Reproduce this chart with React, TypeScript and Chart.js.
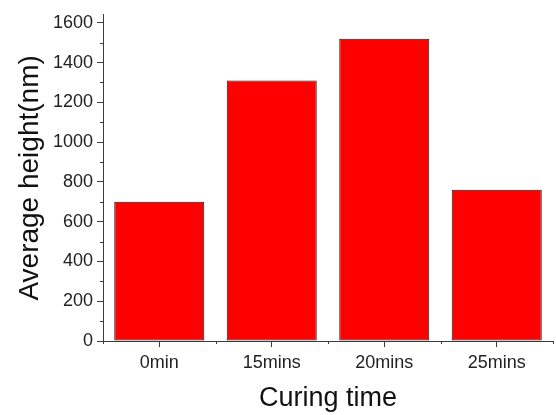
import React, { useEffect, useRef } from "react";
import { Chart, registerables } from "chart.js";

Chart.register(...registerables);

const categories = ["0min", "15mins", "20mins", "25mins"];
const heights = [700, 1310, 1520, 760];
const yMajorTicks = [0, 200, 400, 600, 800, 1000, 1200, 1400, 1600];
const yMinorTicks = [100, 300, 500, 700, 900, 1100, 1300, 1500];
const yMax = 1640;

const AXIS = "#3a3a3a";
const FONT = "'Liberation Sans', Arial, sans-serif";

const minorTicksPlugin = {
  id: "minorTicks",
  afterDraw(chart: any) {
    const { ctx } = chart;
    const xs = chart.scales.x;
    const ys = chart.scales.y;
    ctx.save();
    ctx.strokeStyle = AXIS;
    ctx.lineWidth = 1;
    ctx.beginPath();
    for (const v of yMinorTicks) {
      const py = Math.round(ys.getPixelForValue(v)) + 0.5;
      ctx.moveTo(ys.right - 3, py);
      ctx.lineTo(ys.right, py);
    }
    for (let i = 0; i <= categories.length; i++) {
      const px = Math.round(xs.getPixelForValue(i - 0.5)) + 0.5;
      ctx.moveTo(px, xs.top);
      ctx.lineTo(px, xs.top + 3);
    }
    ctx.stroke();
    ctx.restore();
  },
};

export default function App() {
  const ref = useRef<HTMLCanvasElement | null>(null);
  useEffect(() => {
    document.body.style.margin = "0";
    const chart = new Chart(ref.current as HTMLCanvasElement, {
      type: "bar",
      data: {
        labels: categories,
        datasets: [
          {
            data: heights,
            backgroundColor: "#ff0000",
            borderColor: "#1a1a1a",
            borderWidth: 1,
            borderSkipped: false,
            barPercentage: 0.8,
            categoryPercentage: 1,
          },
        ],
      },
      options: {
        responsive: true,
        maintainAspectRatio: false,
        animation: false,
        layout: { padding: { top: 12, right: 3, left: 0, bottom: 0 } },
        plugins: { legend: { display: false }, tooltip: { enabled: false } },
        scales: {
          x: {
            offset: true,
            grid: {
              offset: false,
              drawOnChartArea: false,
              drawTicks: true,
              tickLength: 6,
              tickColor: AXIS,
            },
            border: { display: true, color: AXIS, width: 1 },
            ticks: {
              color: "#222",
              font: { family: FONT, size: 18 },
              padding: 5,
              maxRotation: 0,
            },
            title: {
              display: true,
              text: "Curing time",
              color: "#111",
              font: { family: FONT, size: 27 },
              padding: { top: 0, bottom: 0 },
            },
            afterFit(scale: any) {
              scale.height = 74;
            },
          },
          y: {
            min: 0,
            max: yMax,
            afterBuildTicks(scale: any) {
              scale.ticks = yMajorTicks.map((v) => ({ value: v }));
            },
            grid: {
              drawOnChartArea: false,
              drawTicks: true,
              tickLength: 6,
              tickColor: AXIS,
            },
            border: { display: true, color: AXIS, width: 1 },
            ticks: {
              color: "#222",
              font: { family: FONT, size: 18 },
              padding: 4,
              callback: (v: any) => String(v),
            },
            title: {
              display: true,
              text: "Average height(nm)",
              color: "#111",
              font: { family: FONT, size: 28 },
              padding: { top: 13, bottom: 0 },
            },
            afterFit(scale: any) {
              scale.width = 103;
            },
          },
        },
      },
      plugins: [minorTicksPlugin],
    });
    return () => chart.destroy();
  }, []);
  return (
    <div style={{ width: 556, height: 415, position: "relative" }}>
      <canvas ref={ref} />
    </div>
  );
}
